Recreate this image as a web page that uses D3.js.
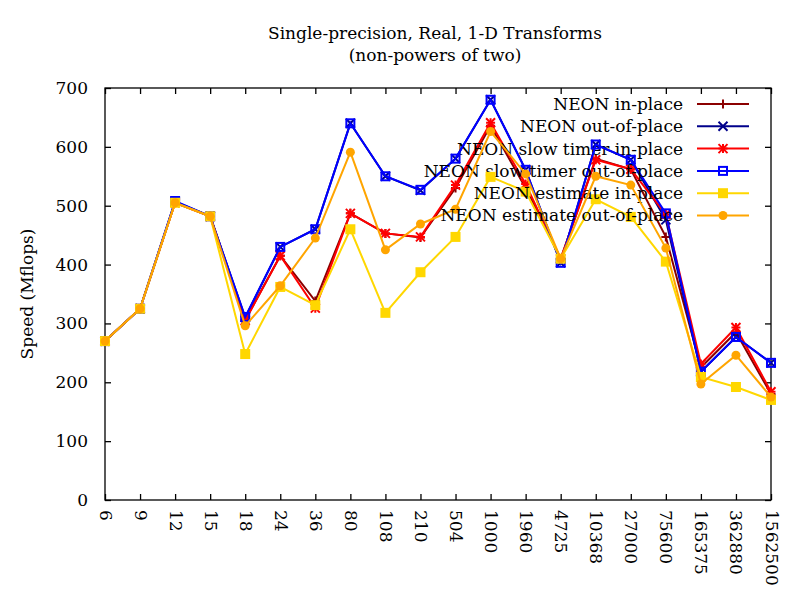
<!DOCTYPE html>
<html>
<head>
<meta charset="utf-8">
<script src="https://cdn.jsdelivr.net/npm/d3@7"></script>
<style>
  body { margin: 0; background: #fff; }
  svg text { font-family: "DejaVu Serif", serif; font-size: 17px; fill: #000; }
</style>
</head>
<body>
<div id="chart"></div>
<script>
// FFT sizes along the x axis (categorical)
const sizes = ["6","9","12","15","18","24","36","80","108","210","504","1000","1960","4725","10368","27000","75600","165375","362880","1562500"];

// speed in Mflops for each series
const neonIn       = [270,325,505,482,306,415,338,487,453,446,530,636,530,410,580,562,447,225,285,180];
const neonOut      = [270,325,507,482,310,430,460,640,550,526,580,680,561,403,604,578,476,218,277,233];
const slowIn       = [270,325,505,482,305,415,326,487,453,447,535,641,537,410,578,562,485,231,293,184];
const slowOut      = [270,325,508,482,311,430,460,640,550,527,580,680,561,403,604,578,487,218,277,233];
const estimateIn   = [270,325,505,482,248,362,331,460,318,387,447,549,524,410,511,481,405,209,192,170];
const estimateOut  = [270,325,505,482,296,364,445,591,425,469,494,626,554,410,550,535,428,197,246,175];

const seriesNames = ["NEON in-place","NEON out-of-place","NEON slow timer in-place","NEON slow timer out-of-place","NEON estimate in-place","NEON estimate out-of-place"];
const seriesValues = [neonIn, neonOut, slowIn, slowOut, estimateIn, estimateOut];
const seriesColors = ["#8b0000","#00008b","#ff0000","#0000ff","#ffd700","#ffa500"];
const seriesMarks = ["plus","cross","star","box","boxfill","circle"];

const yTicks = [0,100,200,300,400,500,600,700];

const width = 800, height = 600;
const margin = {top: 88, right: 29, bottom: 100, left: 105};

const svg = d3.select("#chart")
    .append("svg")
    .attr("width", width)
    .attr("height", height)

const x = d3.scalePoint()
    .domain(sizes)
    .range([margin.left, width - margin.right])

const y = d3.scaleLinear()
    .domain([0, 700])
    .range([height - margin.bottom, margin.top])

// frame + inward ticks on all four sides
svg.append("rect")
    .attr("x", margin.left)
    .attr("y", margin.top)
    .attr("width", width - margin.right - margin.left)
    .attr("height", height - margin.bottom - margin.top)
    .attr("fill", "none")
    .attr("stroke", "#000")
    .attr("stroke-width", 1.3)

const bottomAxis = svg.append("g")
    .attr("transform", `translate(0,${height - margin.bottom})`)
    .call(d3.axisBottom(x).tickSize(-6).tickPadding(10))
const topAxis = svg.append("g")
    .attr("transform", `translate(0,${margin.top})`)
    .call(d3.axisTop(x).tickSize(-6).tickFormat(""))
const leftAxis = svg.append("g")
    .attr("transform", `translate(${margin.left},0)`)
    .call(d3.axisLeft(y).tickValues(yTicks).tickSize(-6).tickPadding(17))
const rightAxis = svg.append("g")
    .attr("transform", `translate(${width - margin.right},0)`)
    .call(d3.axisRight(y).tickValues(yTicks).tickSize(-6).tickFormat(""))

svg.selectAll(".domain").remove()
svg.selectAll(".tick line").attr("stroke", "#000").attr("stroke-width", 1.3)
svg.selectAll(".tick text").style("font-family", "DejaVu Serif, serif").style("font-size", "17px")

// x labels run downwards
bottomAxis.selectAll(".tick text")
    .attr("transform", "rotate(90)")
    .attr("x", 10)
    .attr("y", 0)
    .attr("dy", "0.35em")
    .attr("text-anchor", "start")

// titles
svg.append("text")
    .attr("x", 435).attr("y", 39)
    .attr("text-anchor", "middle")
    .text("Single-precision, Real, 1-D Transforms")
svg.append("text")
    .attr("x", 435).attr("y", 61)
    .attr("text-anchor", "middle")
    .text("(non-powers of two)")
svg.append("text")
    .attr("transform", "translate(33,294) rotate(-90)")
    .attr("text-anchor", "middle")
    .text("Speed (Mflops)")

// marker drawing for gnuplot style point types
function drawMark(g, kind, cx, cy, color) {
    const s = 4.5;
    if (kind === "plus" || kind === "star") {
        g.append("path").attr("d", `M${cx - s},${cy}H${cx + s}M${cx},${cy - s}V${cy + s}`)
            .attr("stroke", color).attr("stroke-width", 2)
    }
    if (kind === "cross" || kind === "star") {
        g.append("path").attr("d", `M${cx - s},${cy - s}L${cx + s},${cy + s}M${cx - s},${cy + s}L${cx + s},${cy - s}`)
            .attr("stroke", color).attr("stroke-width", 2)
    }
    if (kind === "box") {
        g.append("rect").attr("x", cx - 4).attr("y", cy - 4).attr("width", 8).attr("height", 8)
            .attr("fill", "none").attr("stroke", color).attr("stroke-width", 2)
    }
    if (kind === "boxfill") {
        g.append("rect").attr("x", cx - 5).attr("y", cy - 5).attr("width", 10).attr("height", 10)
            .attr("fill", color)
    }
    if (kind === "circle") {
        g.append("circle").attr("cx", cx).attr("cy", cy).attr("r", 4.5).attr("fill", color)
    }
}

const line = d3.line()
    .x((d, i) => x(sizes[i]))
    .y(d => y(d))

const legendTextX = 683, legendLineX1 = 697, legendLineX2 = 749;

seriesValues.forEach(function (vals, k) {
    const g = svg.append("g")
    const color = seriesColors[k]
    g.append("path")
        .datum(vals)
        .attr("d", line)
        .attr("fill", "none")
        .attr("stroke", color)
        .attr("stroke-width", 2)
    vals.forEach((v, i) => drawMark(g, seriesMarks[k], x(sizes[i]), y(v), color))

    // legend row
    const ly = 104 + k * 22.3
    svg.append("text")
        .attr("x", legendTextX).attr("y", ly)
        .attr("dy", "0.35em")
        .attr("text-anchor", "end")
        .text(seriesNames[k])
    svg.append("line")
        .attr("x1", legendLineX1).attr("x2", legendLineX2)
        .attr("y1", ly).attr("y2", ly)
        .attr("stroke", color).attr("stroke-width", 2)
    drawMark(svg.append("g"), seriesMarks[k], (legendLineX1 + legendLineX2) / 2, ly, color)
})
</script>
</body>
</html>
